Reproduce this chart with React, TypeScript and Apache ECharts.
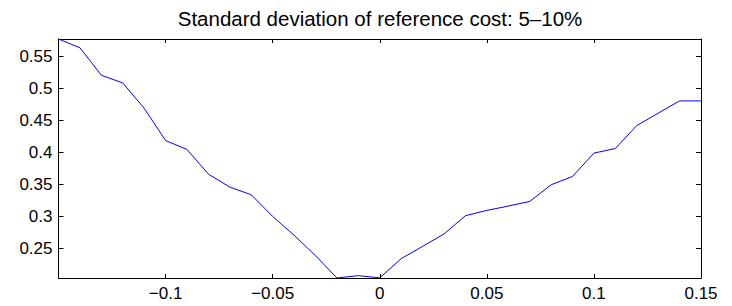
import React, { useEffect, useRef } from "react";
import * as echarts from "echarts";

const titleText = "Standard deviation of reference cost: 5\u201310%";
const xValues = [
  -0.15, -0.14, -0.13, -0.12, -0.11, -0.1, -0.09, -0.08, -0.07, -0.06, -0.05,
  -0.04, -0.03, -0.02, -0.01, 0, 0.01, 0.02, 0.03, 0.04, 0.05, 0.06, 0.07,
  0.08, 0.09, 0.1, 0.11, 0.12, 0.13, 0.14, 0.15,
];
const yValues = [
  0.5777, 0.564, 0.521, 0.5089, 0.4694, 0.4188, 0.4047, 0.3662, 0.3459,
  0.3339, 0.3, 0.2705, 0.2386, 0.2036, 0.2073, 0.2038, 0.2339, 0.2531,
  0.2725, 0.3011, 0.3094, 0.3162, 0.3234, 0.3495, 0.3625, 0.3991, 0.4063,
  0.4422, 0.4616, 0.4808, 0.4808,
];
const xTickLabels = [-0.1, -0.05, 0, 0.05, 0.1, 0.15];
const xTicks = [-0.15, -0.1, -0.05, 0, 0.05, 0.1, 0.15];
const yTicks = [0.25, 0.3, 0.35, 0.4, 0.45, 0.5, 0.55];

const FONT = "'Liberation Sans', Arial, Helvetica, sans-serif";

const fmt = (v: number) => String(+Number(v).toFixed(2)).replace("-", "\u2212");

export default function App() {
  const ref = useRef<HTMLDivElement>(null);
  useEffect(() => {
    if (!ref.current) return;
    const chart = echarts.init(ref.current, undefined, { renderer: "svg" });
    const yMin = Math.min(...yValues);
    const yMax = Math.max(...yValues);
    const xMin = xValues[0];
    const xMax = xValues[xValues.length - 1];
    const axisLine = { show: true, onZero: false, lineStyle: { color: "#000", width: 1 } };
    chart.setOption({
      animation: false,
      backgroundColor: "#fff",
      grid: { left: 58.5, right: 31, top: 39, bottom: 28, containLabel: false },
      graphic: [
        {
          type: "text",
          x: 380,
          y: 18,
          style: {
            text: titleText,
            fontSize: 20.5,
            fontFamily: FONT,
            fill: "#000",
            align: "center",
            verticalAlign: "middle",
          },
        },
      ],
      xAxis: [
        {
          type: "value",
          position: "bottom",
          min: xMin,
          max: xMax,
          axisLine,
          splitLine: { show: false },
          axisTick: { show: true, inside: true, length: 4, customValues: xTicks, lineStyle: { color: "#000" } },
          axisLabel: {
            show: true,
            customValues: xTickLabels,
            formatter: fmt,
            fontSize: 17,
            fontFamily: FONT,
            color: "#000",
            margin: 7,
          },
        },
        {
          type: "value",
          position: "top",
          min: xMin,
          max: xMax,
          axisLine,
          splitLine: { show: false },
          axisTick: { show: true, inside: true, length: 4, customValues: xTicks, lineStyle: { color: "#000" } },
          axisLabel: { show: false },
        },
      ],
      yAxis: [
        {
          type: "value",
          position: "left",
          min: yMin,
          max: yMax,
          axisLine,
          splitLine: { show: false },
          axisTick: { show: true, inside: true, length: 5, customValues: yTicks, lineStyle: { color: "#000" } },
          axisLabel: {
            show: true,
            customValues: yTicks,
            formatter: fmt,
            fontSize: 17,
            fontFamily: FONT,
            color: "#000",
            margin: 6,
          },
        },
        {
          type: "value",
          position: "right",
          min: yMin,
          max: yMax,
          axisLine,
          splitLine: { show: false },
          axisTick: { show: true, inside: true, length: 5, customValues: yTicks, lineStyle: { color: "#000" } },
          axisLabel: { show: false },
        },
      ],
      series: [
        {
          type: "line",
          xAxisIndex: 0,
          yAxisIndex: 0,
          data: xValues.map((x, i) => [x, yValues[i]]),
          symbol: "none",
          lineStyle: { color: "#0000ff", width: 1 },
        },
      ],
    });
    return () => chart.dispose();
  }, []);
  return (
    <div
      ref={ref}
      style={{ position: "fixed", left: 0, top: 0, width: 732, height: 306, background: "#fff" }}
    />
  );
}
